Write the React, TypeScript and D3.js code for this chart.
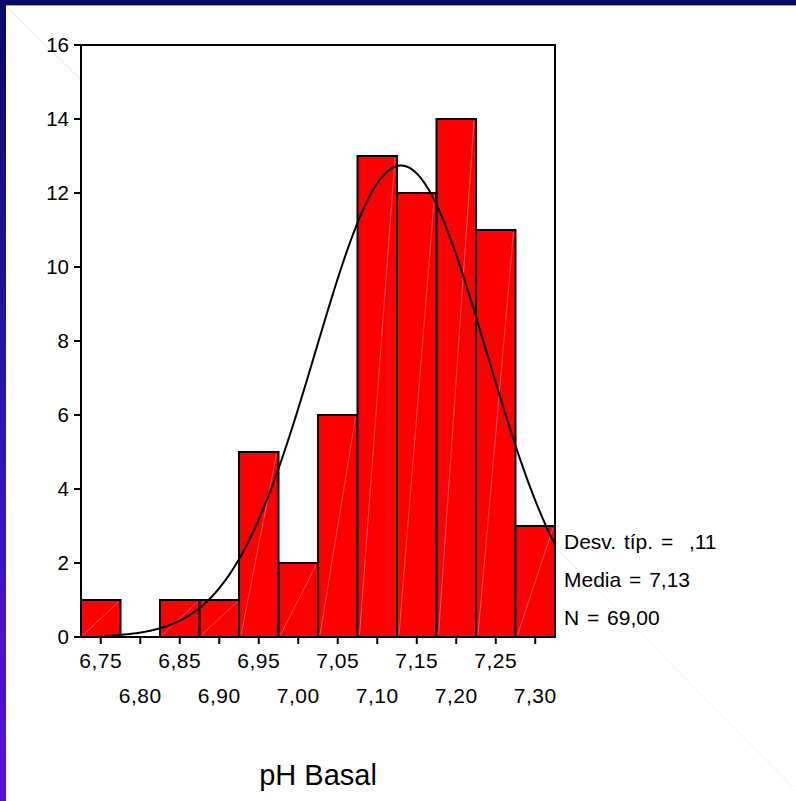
import React, { useRef, useEffect } from 'react';
import * as d3 from 'd3';

// bin centres (pH) and counts
const binCenters = [6.75, 6.8, 6.85, 6.9, 6.95, 7.0, 7.05, 7.1, 7.15, 7.2, 7.25, 7.3];
const counts = [1, 0, 1, 1, 5, 2, 6, 13, 12, 14, 11, 3];
const yTicks = [0, 2, 4, 6, 8, 10, 12, 14, 16];
const statLines = ['Desv. típ. =  ,11', 'Media = 7,13', 'N = 69,00'];
const meanValue = 7.13;
const sdValue = 0.108;
const nValue = 69;
const binWidth = 0.05;
const curveStart = 6.755;

function App() {
    const chartRef = useRef<SVGSVGElement | null>(null);

    useEffect(() => {
        const width = 796;
        const height = 801;
        const svg = d3.select(chartRef.current);
        svg.selectAll('*').remove();

        const font = 'Liberation Sans, Arial, sans-serif';

        // slide frame
        const defs = svg.append('defs');
        const grad = defs.append('linearGradient')
            .attr('id', 'leftband')
            .attr('x1', 0).attr('y1', 0).attr('x2', 0).attr('y2', 1);
        grad.append('stop').attr('offset', '0%').attr('stop-color', '#07086a');
        grad.append('stop').attr('offset', '50%').attr('stop-color', '#2a16b0');
        grad.append('stop').attr('offset', '100%').attr('stop-color', '#5a10d8');

        svg.append('rect').attr('width', width).attr('height', height).attr('fill', '#ffffff');
        svg.append('rect').attr('x', 0).attr('y', 0).attr('width', width).attr('height', 5).attr('fill', '#060a62');
        svg.append('line').attr('x1', 6).attr('x2', width).attr('y1', 5.5).attr('y2', 5.5)
            .attr('stroke', '#9a9ad0').attr('stroke-width', 1);
        svg.append('rect').attr('x', 0).attr('y', 0).attr('width', 6).attr('height', height).attr('fill', 'url(#leftband)');

        // faint diagonal artefacts of the slide
        svg.append('line').attr('x1', 6).attr('y1', 6).attr('x2', 81).attr('y2', 80)
            .attr('stroke', '#e6e6e6').attr('stroke-width', 1);
        svg.append('line').attr('x1', 556).attr('y1', 548).attr('x2', 796).attr('y2', 790)
            .attr('stroke', '#eeeeee').attr('stroke-width', 1);

        const left = 81, right = 555, top = 45, bottom = 637;

        const x = d3.scaleLinear()
            .domain([binCenters[0] - binWidth / 2, binCenters[binCenters.length - 1] + binWidth / 2])
            .range([left, right]);
        const y = d3.scaleLinear().domain([0, 16]).range([bottom, top]);

        const g = svg.append('g');

        // bars
        const bars = binCenters.map((c, i) => ({ c, n: counts[i] })).filter(d => d.n > 0);
        g.selectAll('.bar')
            .data(bars)
            .enter()
            .append('rect')
            .attr('class', 'bar')
            .attr('x', d => x(d.c - binWidth / 2))
            .attr('y', d => y(d.n))
            .attr('width', d => x(d.c + binWidth / 2) - x(d.c - binWidth / 2))
            .attr('height', d => y(0) - y(d.n))
            .attr('fill', '#ff0000')
            .attr('stroke', '#000')
            .attr('stroke-width', 2);

        // the thin light diagonals inside each bar
        g.selectAll('.bar-diag')
            .data(bars)
            .enter()
            .append('line')
            .attr('x1', d => x(d.c - binWidth / 2) + 2)
            .attr('y1', y(0) - 2)
            .attr('x2', d => x(d.c + binWidth / 2) - 2)
            .attr('y2', d => y(d.n) + 2)
            .attr('stroke', '#ff9a9a')
            .attr('stroke-width', 0.8)
            .attr('opacity', 0.7);

        // frame
        g.append('path')
            .attr('d', `M${left},${bottom}V${top}H${right}V${bottom}`)
            .attr('fill', 'none')
            .attr('stroke', '#000')
            .attr('stroke-width', 2);
        g.append('line')
            .attr('x1', left).attr('x2', right).attr('y1', bottom).attr('y2', bottom)
            .attr('stroke', '#000').attr('stroke-width', 2);

        // normal curve
        const scaleN = nValue * binWidth / (sdValue * Math.sqrt(2 * Math.PI));
        const xs = d3.range(curveStart, x.domain()[1] + 1e-9, 0.002);
        const line = d3.line<number>()
            .x(v => x(v))
            .y(v => y(scaleN * Math.exp(-0.5 * ((v - meanValue) / sdValue) ** 2)))
            .curve(d3.curveLinear);
        g.append('path')
            .datum(xs)
            .attr('d', line)
            .attr('fill', 'none')
            .attr('stroke', '#000')
            .attr('stroke-width', 2);

        // y axis
        g.selectAll('.ytick')
            .data(yTicks)
            .enter()
            .append('line')
            .attr('x1', left - 7).attr('x2', left)
            .attr('y1', d => y(d)).attr('y2', d => y(d))
            .attr('stroke', '#000').attr('stroke-width', 2);
        g.selectAll('.ylabel')
            .data(yTicks)
            .enter()
            .append('text')
            .attr('x', left - 12)
            .attr('y', d => y(d))
            .attr('dy', '0.36em')
            .attr('text-anchor', 'end')
            .attr('font-family', font)
            .attr('font-size', 20.5)
            .attr('fill', '#000')
            .text(d => d);

        // x axis
        const fmt = (v: number) => v.toFixed(2).replace('.', ',');
        g.selectAll('.xtick')
            .data(binCenters)
            .enter()
            .append('line')
            .attr('x1', d => x(d)).attr('x2', d => x(d))
            .attr('y1', bottom).attr('y2', bottom + 7)
            .attr('stroke', '#000').attr('stroke-width', 2);
        g.selectAll('.xlabel')
            .data(binCenters)
            .enter()
            .append('text')
            .attr('x', d => x(d))
            .attr('y', (d, i) => (i % 2 === 0 ? 668 : 703))
            .attr('text-anchor', 'middle')
            .attr('font-family', font)
            .attr('font-size', 21)
            .attr('letter-spacing', 0.5)
            .attr('fill', '#000')
            .text(d => fmt(d));

        // stats box
        g.selectAll('.stat')
            .data(statLines)
            .enter()
            .append('text')
            .attr('x', 564)
            .attr('y', (d, i) => 549 + i * 38)
            .attr('font-family', font)
            .attr('font-size', 21)
            .attr('word-spacing', 2)
            .attr('xml:space', 'preserve')
            .style('white-space', 'pre')
            .attr('fill', '#000')
            .text(d => d);

        // axis title
        g.append('text')
            .attr('x', 318)
            .attr('y', 785)
            .attr('text-anchor', 'middle')
            .attr('font-family', font)
            .attr('font-size', 29)
            .attr('fill', '#000')
            .text('pH Basal');
    }, []);

    return (
        <svg
            ref={chartRef}
            width={796}
            height={801}
            style={{ position: 'absolute', left: 0, top: 0, display: 'block' }}
        />
    );
}

export default App;
